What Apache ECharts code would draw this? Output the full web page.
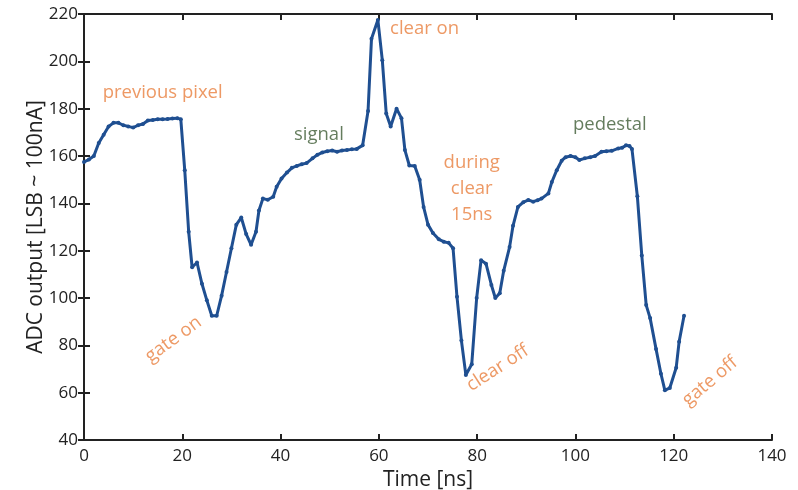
<!DOCTYPE html>
<html>
<head>
<meta charset="utf-8">
<script src="https://cdn.jsdelivr.net/npm/echarts@6/dist/echarts.min.js"></script>
<style>
  html, body { margin: 0; padding: 0; background: #fff; }
  #chart { width: 798px; height: 490px; }
</style>
</head>
<body>
<div id="chart"></div>
<script>
// sample times [ns] and ADC readings
const timeNs = [
  0, 1, 2, 3, 4, 5, 6, 7, 8, 9, 10, 11, 12, 13, 14, 15, 16, 17, 18, 19, 19.7,
  20.5, 21.3, 22, 23, 24, 25, 26, 27, 28, 29, 30, 31, 32, 33, 34, 35, 35.6, 36.4,
  37.4, 38.5, 39.2, 40.2, 41.3, 42.3, 43.3, 44.3, 45.3, 46.5, 47.5, 48.5, 49.5,
  50.5, 51.5, 52.5, 53.5, 54.5, 55.5, 56.7, 57.8, 58.5, 59.8, 60.7, 61.5, 62.4,
  63.6, 64.6, 65.3, 66.2, 67.3, 68.3, 69.1, 70, 71, 72.2, 73.2, 74.2, 75.1, 75.9,
  76.8, 77.7, 78.9, 79.9, 80.8, 81.8, 82.9, 83.7, 84.6, 85.4, 86.6, 87.3, 88.3,
  89.4, 90.4, 91.4, 92.3, 93.1, 94.5, 95.2, 96.2, 97.2, 98, 99, 100, 100.8, 101.9,
  103, 104, 105.3, 106.3, 107.4, 108.7, 109.5, 110.3, 111, 111.5, 112.6, 113.5,
  114.4, 115.2, 116.4, 117.4, 118.2, 119.2, 120.5, 121.1, 122.1
]
const adcOut = [
  157.5, 158.5, 160, 165.5, 169, 172.5, 174, 174, 173, 172.5, 172, 173, 173.5, 175, 175.2, 175.5, 175.5, 175.6, 175.8, 176, 175.5,
  154, 128, 113, 115, 106, 99, 92.5, 92.5, 101, 111, 121, 131, 134, 127, 122.5, 128, 137, 142,
  141.5, 142.8, 147, 150.5, 153, 155, 155.8, 156.5, 157, 159, 160.5, 161.5, 162,
  162.3, 161.8, 162.3, 162.5, 162.8, 163, 164.5, 179, 209.5, 217.5, 200.5, 178, 172.5,
  180, 176, 162.5, 156, 155.8, 150, 138.5, 131, 127.5, 124.8, 123.8, 123.3, 121, 100.5,
  82, 67.5, 72, 100, 116, 114.5, 105.5, 100, 102, 111.5, 121.5, 130.5, 138.5,
  140.5, 141.4, 140.7, 141.3, 142, 144.2, 149, 154, 158, 159.5, 160, 159.5, 158.3, 159,
  159.5, 160, 161.8, 162, 162.2, 163.2, 163.5, 164.5, 164.2, 163, 143, 118,
  97, 91.5, 78.5, 68, 61, 62, 70.5, 81.5, 92.5
]

// annotation texts and where they sit (data coords)
const noteText = ['previous pixel', 'gate on', 'signal', 'clear on', 'during\nclear\n15ns', 'clear off', 'pedestal', 'gate off']
const noteAt = [[16, 186.6], [18.2, 82.5], [47.8, 168.9], [69.3, 213.7], [78.9, 146], [84.2, 70.4], [107, 173], [127.4, 64.8]]
const noteKind = ['orange', 'orange', 'green', 'orange', 'orange', 'orange', 'green', 'orange']
const noteTilt = [0, 36, 0, 0, 0, 33, 0, 40]

const colors = { orange: '#E8803F', green: '#3D5B35' }
const fontFam = 'Open Sans'

const myChart = echarts.init(document.getElementById('chart'))

const lineData = timeNs.map((t, i) => [t, adcOut[i]])
const noteData = noteText.map((txt, i) => ({
  value: noteAt[i],
  label: {
    formatter: txt,
    color: colors[noteKind[i]],
    rotate: noteTilt[i]
  }
}))

const boxAxis = {
  axisLine: { show: true, lineStyle: { color: '#222', width: 2 } },
  axisTick: { show: true, inside: true, length: 6, lineStyle: { color: '#222', width: 2 } },
  axisLabel: { show: false },
  splitLine: { show: false }
}

const option = {
  animation: false,
  grid: { left: 84, right: 26, top: 14, bottom: 50, outerBoundsMode: 'none' },
  xAxis: [
    {
      type: 'value',
      min: 0,
      max: 140,
      interval: 20,
      name: 'Time [ns]',
      nameLocation: 'middle',
      nameGap: 27,
      nameTextStyle: { fontFamily: fontFam, fontSize: 21, color: '#222' },
      axisLine: { show: true, lineStyle: { color: '#222', width: 2 } },
      axisTick: { show: true, inside: true, length: 6, lineStyle: { color: '#222', width: 2 } },
      axisLabel: { fontFamily: fontFam, fontSize: 17, color: '#222', margin: 8 },
      splitLine: { show: false }
    },
    Object.assign({ type: 'value', position: 'top', min: 0, max: 140, interval: 20 }, boxAxis)
  ],
  yAxis: [
    {
      type: 'value',
      min: 40,
      max: 220,
      interval: 20,
      name: 'ADC output [LSB ~ 100nA]',
      nameLocation: 'middle',
      nameRotate: 90,
      nameGap: 37,
      nameMoveOverlap: false,
      nameTextStyle: { fontFamily: fontFam, fontSize: 21, color: '#222' },
      axisLine: { show: true, lineStyle: { color: '#222', width: 2 } },
      axisTick: { show: true, inside: true, length: 6, lineStyle: { color: '#222', width: 2 } },
      axisLabel: { fontFamily: fontFam, fontSize: 17, color: '#222', margin: 6 },
      splitLine: { show: false }
    },
    Object.assign({ type: 'value', position: 'right', min: 40, max: 220, interval: 20 }, boxAxis)
  ],
  series: [
    {
      type: 'line',
      data: lineData,
      symbol: 'circle',
      symbolSize: 4,
      showAllSymbol: true,
      lineStyle: { color: '#1F4F91', width: 3 },
      itemStyle: { color: '#1F4F91' },
      z: 3
    },
    {
      type: 'scatter',
      data: noteData,
      symbolSize: 0,
      silent: true,
      label: {
        show: true,
        position: 'inside',
        fontFamily: fontFam,
        fontSize: 18.5,
        lineHeight: 26,
        align: 'center'
      },
      z: 4
    }
  ]
}

myChart.setOption(option)
</script>
</body>
</html>
